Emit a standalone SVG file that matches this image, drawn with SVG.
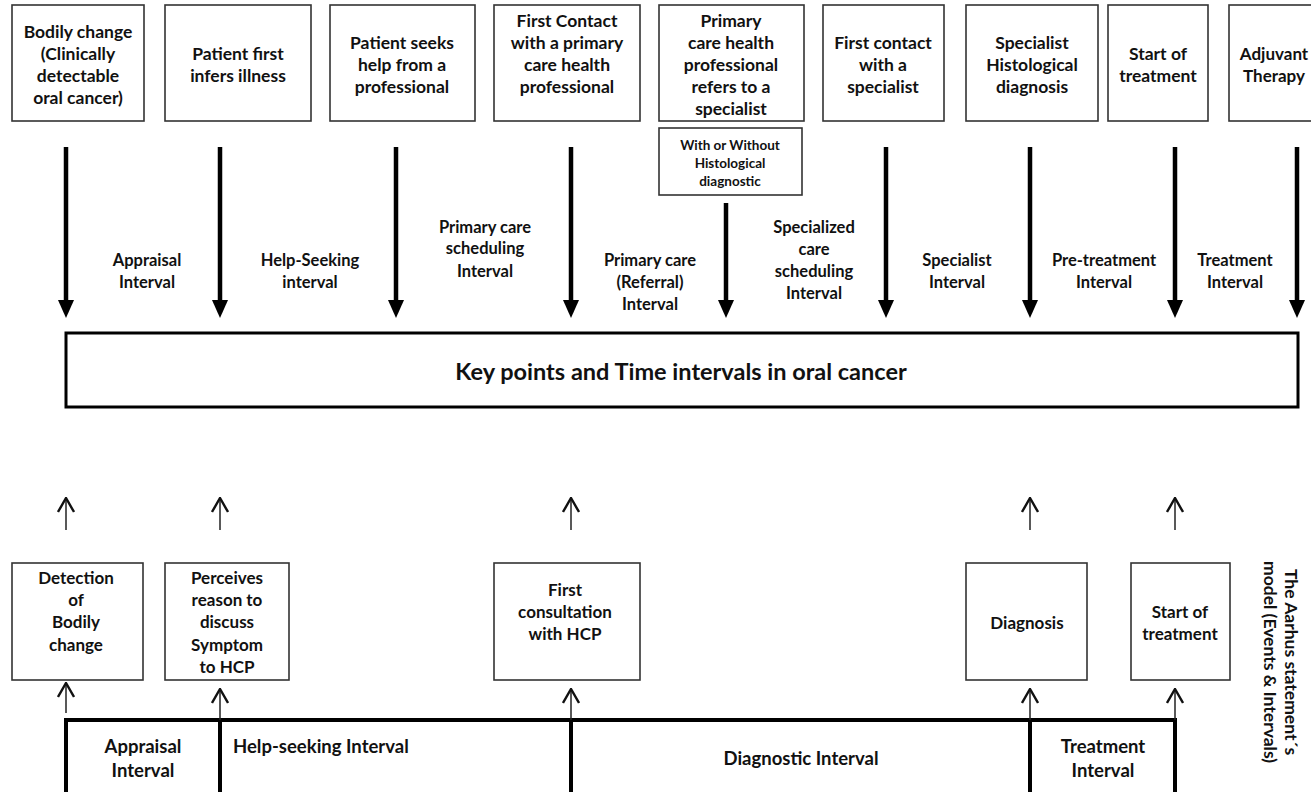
<svg xmlns="http://www.w3.org/2000/svg" width="1311" height="792" viewBox="0 0 1311 792">
<style>
  .box{fill:#fff;stroke:#333;stroke-width:1.6}
  .t{font-family:Lato,"Liberation Sans",sans-serif;font-weight:700;fill:#111;text-anchor:middle}
  .top{font-size:17.5px}
  .lab{font-size:16.5px}
  .sub{font-size:13.5px}
  .bot{font-size:17px}
  .barl{font-size:18.5px}
  .thick{stroke:#000;stroke-width:4.5;fill:none}
  .thin{stroke:#222;stroke-width:1.5;fill:none}
  .bar{stroke:#000;stroke-width:4;fill:none}
</style>
<defs>
  <marker id="hd" viewBox="0 0 18 16" refX="0" refY="8" markerWidth="18" markerHeight="16" markerUnits="userSpaceOnUse" orient="auto">
    <path d="M0,0 L18,8 L0,16 z" fill="#000"/>
  </marker>
  <marker id="ch" viewBox="0 0 16 18" refX="15" refY="9" markerWidth="16" markerHeight="18" markerUnits="userSpaceOnUse" orient="auto">
    <path d="M1,1 L15,9 L1,17" fill="none" stroke="#111" stroke-width="2.4"/>
  </marker>
</defs>
<rect width="1311" height="792" fill="#fff"/>

<!-- top nodes -->
<g id="n-bodily"><rect class="box" x="12" y="5" width="132" height="116"/>
<text class="t top"><tspan x="78" y="38">Bodily change</tspan><tspan x="78" y="60">(Clinically</tspan><tspan x="78" y="82">detectable</tspan><tspan x="78" y="104">oral cancer)</tspan></text></g>
<g id="n-infers"><rect class="box" x="165" y="5" width="146" height="116"/>
<text class="t top"><tspan x="238" y="60">Patient first</tspan><tspan x="238" y="82">infers illness</tspan></text></g>
<g id="n-seeks"><rect class="box" x="330" y="5" width="145" height="116"/>
<text class="t top"><tspan x="402" y="49">Patient seeks</tspan><tspan x="402" y="71">help from a</tspan><tspan x="402" y="93">professional</tspan></text></g>
<g id="n-firstcontact"><rect class="box" x="494" y="5" width="146" height="116"/>
<text class="t top"><tspan x="567" y="27">First Contact</tspan><tspan x="567" y="49">with a primary</tspan><tspan x="567" y="71">care health</tspan><tspan x="567" y="93">professional</tspan></text></g>
<g id="n-refers"><rect class="box" x="659" y="5" width="145" height="116"/>
<text class="t top"><tspan x="731" y="27">Primary</tspan><tspan x="731" y="49">care health</tspan><tspan x="731" y="71">professional</tspan><tspan x="731" y="93">refers to a</tspan><tspan x="731" y="115">specialist</tspan></text></g>
<g id="n-withwithout"><rect class="box" x="659" y="128" width="143" height="67"/>
<text class="t sub"><tspan x="730" y="150">With or Without</tspan><tspan x="730" y="168">Histological</tspan><tspan x="730" y="186">diagnostic</tspan></text></g>
<g id="n-specialist"><rect class="box" x="823" y="5" width="121" height="116"/>
<text class="t top"><tspan x="883" y="49">First contact</tspan><tspan x="883" y="71">with a</tspan><tspan x="883" y="93">specialist</tspan></text></g>
<g id="n-histo"><rect class="box" x="966" y="5" width="132" height="116"/>
<text class="t top"><tspan x="1032" y="49">Specialist</tspan><tspan x="1032" y="71">Histological</tspan><tspan x="1032" y="93">diagnosis</tspan></text></g>
<g id="n-start"><rect class="box" x="1108" y="5" width="100" height="116"/>
<text class="t top"><tspan x="1158" y="60">Start of</tspan><tspan x="1158" y="82">treatment</tspan></text></g>
<g id="n-adjuvant"><rect class="box" x="1229" y="5" width="100" height="116"/>
<text class="t" font-size="17"><tspan x="1274" y="60">Adjuvant</tspan><tspan x="1274" y="82">Therapy</tspan></text></g>

<!-- main box -->
<g id="n-keypoints"><rect x="66" y="333" width="1232" height="74" fill="#fff" stroke="#000" stroke-width="3"/>
<text class="t" x="681" y="380" font-size="23.5">Key points and Time intervals in oral cancer</text></g>

<!-- bottom nodes -->
<g id="n-detection"><rect class="box" x="12" y="563" width="131" height="117"/>
<text class="t bot"><tspan x="76" y="584">Detection</tspan><tspan x="76" y="606">of</tspan><tspan x="76" y="628">Bodily</tspan><tspan x="76" y="651">change</tspan></text></g>
<g id="n-perceives"><rect class="box" x="165" y="563" width="124" height="117"/>
<text class="t bot"><tspan x="227" y="584">Perceives</tspan><tspan x="227" y="606">reason to</tspan><tspan x="227" y="628">discuss</tspan><tspan x="227" y="651">Symptom</tspan><tspan x="227" y="673">to HCP</tspan></text></g>
<g id="n-consult"><rect class="box" x="494" y="563" width="146" height="117"/>
<text class="t bot"><tspan x="565" y="596">First</tspan><tspan x="565" y="618">consultation</tspan><tspan x="565" y="640">with HCP</tspan></text></g>
<g id="n-diagnosis"><rect class="box" x="966" y="563" width="121" height="117"/>
<text class="t bot" x="1027" y="629">Diagnosis</text></g>
<g id="n-start2"><rect class="box" x="1131" y="563" width="99" height="117"/>
<text class="t bot"><tspan x="1180" y="618">Start of</tspan><tspan x="1180" y="640">treatment</tspan></text></g>

<!-- bottom interval bar -->
<g id="n-aarhusbar">
<path class="bar" d="M66,800 V720 H1175 V800 M220,720 V800 M571,720 V800 M1030,720 V800"/>
<text class="t barl"><tspan x="143" y="753">Appraisal</tspan><tspan x="143" y="777">Interval</tspan></text>
<text class="t barl" x="233" y="753" style="text-anchor:start">Help-seeking Interval</text>
<text class="t barl" x="801" y="765">Diagnostic Interval</text>
<text class="t barl"><tspan x="1103" y="753">Treatment</tspan><tspan x="1103" y="777">Interval</tspan></text>
</g>

<g id="n-aarhuslabel">
<text class="t" font-size="17.5" transform="translate(1285,662) rotate(90)"><tspan x="0" y="0">The Aarhus statement´s</tspan><tspan x="0" y="21">model (Events &amp; Intervals)</tspan></text>
</g>

<!-- interval labels -->
<g id="labels">
<text class="t lab"><tspan x="147" y="266">Appraisal</tspan><tspan x="147" y="288">Interval</tspan></text>
<text class="t lab"><tspan x="310" y="266">Help-Seeking</tspan><tspan x="310" y="288">interval</tspan></text>
<text class="t lab"><tspan x="485" y="233">Primary care</tspan><tspan x="485" y="254">scheduling</tspan><tspan x="485" y="277">Interval</tspan></text>
<text class="t lab"><tspan x="650" y="266">Primary care</tspan><tspan x="650" y="288">(Referral)</tspan><tspan x="650" y="310">Interval</tspan></text>
<text class="t lab"><tspan x="814" y="233">Specialized</tspan><tspan x="814" y="255">care</tspan><tspan x="814" y="277">scheduling</tspan><tspan x="814" y="299">Interval</tspan></text>
<text class="t lab"><tspan x="957" y="266">Specialist</tspan><tspan x="957" y="288">Interval</tspan></text>
<text class="t lab"><tspan x="1104" y="266">Pre-treatment</tspan><tspan x="1104" y="288">Interval</tspan></text>
<text class="t lab"><tspan x="1235" y="266">Treatment</tspan><tspan x="1235" y="288">Interval</tspan></text>
</g>

<!-- connectors -->
<g id="connectors">
<line class="thick" x1="66" y1="147" x2="66" y2="300" marker-end="url(#hd)"/>
<line class="thick" x1="220" y1="147" x2="220" y2="300" marker-end="url(#hd)"/>
<line class="thick" x1="396" y1="147" x2="396" y2="300" marker-end="url(#hd)"/>
<line class="thick" x1="571" y1="147" x2="571" y2="300" marker-end="url(#hd)"/>
<line class="thick" x1="726" y1="203" x2="726" y2="300" marker-end="url(#hd)"/>
<line class="thick" x1="886" y1="147" x2="886" y2="300" marker-end="url(#hd)"/>
<line class="thick" x1="1030" y1="147" x2="1030" y2="300" marker-end="url(#hd)"/>
<line class="thick" x1="1175" y1="147" x2="1175" y2="300" marker-end="url(#hd)"/>
<line class="thick" x1="1297" y1="147" x2="1297" y2="300" marker-end="url(#hd)"/>

<line class="thin" x1="66" y1="530" x2="66" y2="498" marker-end="url(#ch)"/>
<line class="thin" x1="220" y1="530" x2="220" y2="498" marker-end="url(#ch)"/>
<line class="thin" x1="571" y1="530" x2="571" y2="498" marker-end="url(#ch)"/>
<line class="thin" x1="1030" y1="530" x2="1030" y2="498" marker-end="url(#ch)"/>
<line class="thin" x1="1175" y1="530" x2="1175" y2="498" marker-end="url(#ch)"/>

<line class="thin" x1="66" y1="713" x2="66" y2="683" marker-end="url(#ch)"/>
<line class="thin" x1="220" y1="720" x2="220" y2="689" marker-end="url(#ch)"/>
<line class="thin" x1="571" y1="720" x2="571" y2="689" marker-end="url(#ch)"/>
<line class="thin" x1="1030" y1="720" x2="1030" y2="689" marker-end="url(#ch)"/>
<line class="thin" x1="1175" y1="720" x2="1175" y2="689" marker-end="url(#ch)"/>
</g>
</svg>
